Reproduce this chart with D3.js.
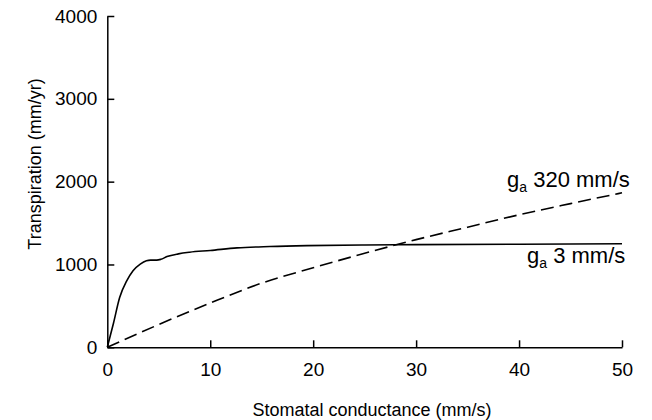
<!DOCTYPE html>
<html>
<head>
<meta charset="utf-8">
<script src="https://cdn.jsdelivr.net/npm/d3@7"></script>
<style>
  body { margin: 0; background: #fff; }
  svg { display: block; font-family: "Liberation Sans", Arial, sans-serif; }
</style>
</head>
<body>
<svg id="chart" width="652" height="420"></svg>
<script>
// Stomatal conductance (mm/s)
const gsLow = [0, 0.6, 1.2, 1.9, 2.5, 3.2, 3.8, 4.2, 4.8, 5.2, 5.8, 6.9, 8, 10, 12.6, 15.8, 19.4, 25, 30, 40, 50];
// Transpiration (mm/yr) at aerodynamic conductance 3 mm/s
const etLow = [0, 290, 600, 805, 925, 1005, 1045, 1052, 1052, 1062, 1095, 1128, 1148, 1169, 1200, 1217, 1228, 1235, 1240, 1245, 1250];

const gsHigh = [0, 5, 10, 15, 20, 25, 30, 35, 40, 45, 50];
// Transpiration (mm/yr) at aerodynamic conductance 320 mm/s
const etHigh = [0, 275, 535, 775, 960, 1135, 1300, 1450, 1600, 1735, 1865];

const xTicks = [0, 10, 20, 30, 40, 50];
const yTicks = [0, 1000, 2000, 3000, 4000];

const svg = d3.select("#chart");
const x = d3.scaleLinear().domain([0, 50]).range([107.3, 622]);
const y = d3.scaleLinear().domain([0, 4000]).range([347.3, 16]);

// axes with inward ticks
const xAxis = d3.axisBottom(x).tickValues(xTicks).tickFormat(d3.format("d"))
  .tickSizeInner(-7).tickSizeOuter(0).tickPadding(15);
const yAxis = d3.axisLeft(y).tickValues(yTicks).tickFormat(d3.format("d"))
  .tickSizeInner(-7).tickSizeOuter(0).tickPadding(10);

const gx = svg.append("g").attr("transform", `translate(0,${y(0)})`).call(xAxis);
const gy = svg.append("g").attr("transform", `translate(${x(0)},0)`).call(yAxis);
[gx, gy].forEach(g => {
  g.selectAll("path, line").attr("stroke", "#000").attr("stroke-width", 1.5);
  g.selectAll("text").attr("fill", "#000").style("font-size", "19px");
});

// axis titles
svg.append("text")
  .attr("x", 372).attr("y", 416)
  .attr("text-anchor", "middle")
  .style("font-size", "18px")
  .text("Stomatal conductance (mm/s)");
svg.append("text")
  .attr("transform", "translate(41,164) rotate(-90)")
  .attr("text-anchor", "middle")
  .style("font-size", "18px")
  .text("Transpiration (mm/yr)");

// curves
const lineLow = d3.line().x((d, i) => x(gsLow[i])).y(d => y(d)).curve(d3.curveMonotoneX);
const lineHigh = d3.line().x((d, i) => x(gsHigh[i])).y(d => y(d)).curve(d3.curveMonotoneX);

svg.append("path").datum(etLow)
  .attr("d", lineLow)
  .attr("fill", "none").attr("stroke", "#000").attr("stroke-width", 1.6);
svg.append("path").datum(etHigh)
  .attr("d", lineHigh)
  .attr("fill", "none").attr("stroke", "#000").attr("stroke-width", 1.6)
  .attr("stroke-dasharray", "13,6");

// series labels
function seriesLabel(px, py, rest) {
  const t = svg.append("text").attr("x", px).attr("y", py).style("font-size", "22px");
  t.append("tspan").text("g");
  t.append("tspan").attr("dy", 5).style("font-size", "14px").text("a");
  t.append("tspan").attr("dy", -5).text(" " + rest);
}
seriesLabel(507, 187, "320 mm/s");
seriesLabel(527, 263, "3 mm/s");
</script>
</body>
</html>
